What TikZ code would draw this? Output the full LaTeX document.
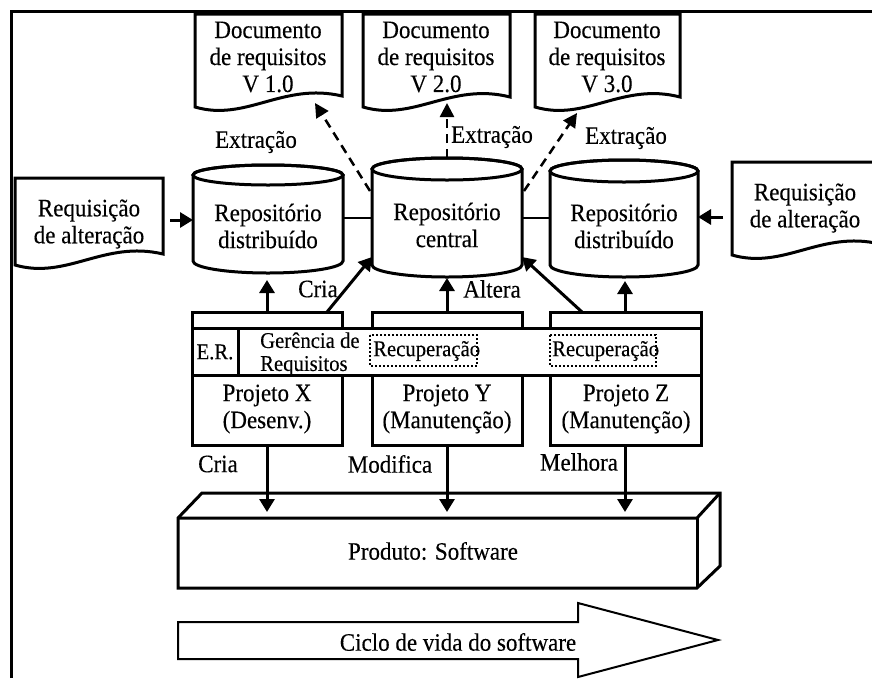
\documentclass[tikz,border=0pt]{standalone}
\usepackage{fontspec}
\setmainfont{Liberation Serif}[FakeStretch=0.92,FakeBold=0.25]
\usetikzlibrary{arrows.meta}
\newcommand\drawcyl[6]{%
 \pgfmathsetmacro\cxx{(#1+#2)/2}\pgfmathsetmacro\rxx{(#2-#1)/2}%
 \draw[shp,fill=white] (#1,#3) -- (#1,#5) .. controls (#1,#5+0.5523*#6) and (\cxx-0.5523*\rxx,#5+#6) .. (\cxx,#5+#6) .. controls (\cxx+0.5523*\rxx,#5+#6) and (#2,#5+0.5523*#6) .. (#2,#5) -- (#2,#3) .. controls (#2,#3-0.5523*#4) and (\cxx+0.5523*\rxx,#3-#4) .. (\cxx,#3-#4) .. controls (\cxx-0.5523*\rxx,#3-#4) and (#1,#3-0.5523*#4) .. (#1,#3) -- cycle;
 \draw[shp] (\cxx,#3) ellipse [x radius=\rxx, y radius=#4];
}
\begin{document}
\begin{tikzpicture}[x=1pt,y=-1pt,
  shp/.style={line width=3pt},
  arr/.style={line width=3pt,-{Triangle[length=13pt,width=15pt]}},
  dsh/.style={line width=2.5pt,dash pattern=on 9pt off 6pt,-{Triangle[length=14pt,width=14pt]}},
  thinln/.style={line width=1.5pt},
  txt/.style={font=\fontsize{25}{27}\selectfont,align=center,inner sep=0pt},
  sml/.style={font=\fontsize{22.5}{23}\selectfont,inner sep=0pt},
  dotbox/.style={line width=2pt,dash pattern=on 2pt off 2pt}]
\useasboundingbox (0,0) rectangle (872,678);
\clip (0,0) rectangle (872,678);
\fill[white] (0,0) rectangle (872,678);
% frame
\draw[shp] (11.5,678) -- (11.5,11.5) -- (872,11.5);
% documents
\draw[shp,fill=white] (195,14) -- (342,14) -- (342,96) .. controls (283,82) and (246,122) .. (195,107) -- cycle;
\draw[shp,fill=white] (363,14) -- (510,14) -- (510,97) .. controls (451,82) and (414,122) .. (363,107) -- cycle;
\draw[shp,fill=white] (535,14) -- (680,14) -- (680,97) .. controls (622,82) and (586,122) .. (535,107) -- cycle;
\node[txt] (docA) at (268,57) {Documento\\de requisitos\\V 1.0};
\node[txt] (docB) at (436,57) {Documento\\de requisitos\\V 2.0};
\node[txt] (docC) at (607,57) {Documento\\de requisitos\\V 3.0};
% change requests
\draw[shp,fill=white] (15,178) -- (163,178) -- (163,254) .. controls (104,240) and (67,280) .. (15,265) -- cycle;
\draw[shp,fill=white] (732,162) -- (880,162) -- (880,244) .. controls (821,230) and (784,270) .. (732,255) -- cycle;
\node[txt] (reqL) at (89,224) {Requisição\\de alteração};
\node[txt] (reqR) at (805,208) {Requisição\\de alteração};
% cylinders
\drawcyl{193}{343}{175}{10}{261}{12}
\drawcyl{372}{522}{169}{11}{265}{12}
\drawcyl{550}{698}{171}{11}{265}{12}
\node[txt] (cylL) at (268,226) {Repositório\\distribuído};
\node[txt] (cylC) at (447,225) {Repositório\\central};
\node[txt] (cylR) at (624,226) {Repositório\\distribuído};
% connector coordinates
\coordinate (cylL-w) at (193,220);
\coordinate (cylL-e) at (343,218);
\coordinate (cylC-w) at (372,218);
\coordinate (cylC-e) at (522,218);
\coordinate (cylR-w) at (550,218);
\coordinate (cylR-e) at (698,217);
\coordinate (reqL-e) at (170,220);
\coordinate (reqR-w) at (723,217);
\coordinate (cylC-nw) at (370,191);
\coordinate (cylC-n) at (447,158);
\coordinate (cylC-ne) at (524,191);
\coordinate (docA-s) at (315,103);
\coordinate (docB-s) at (447,103);
\coordinate (docC-s) at (577,113);
\coordinate (cylL-s) at (267,280);
\coordinate (cylC-sw) at (372,257);
\coordinate (cylC-s) at (447,278);
\coordinate (cylC-se) at (522,257);
\coordinate (cylR-s) at (625,281);
\coordinate (prjX-n) at (267,312);
\coordinate (prjX-ne) at (327,312);
\coordinate (prjY-n) at (447,312);
\coordinate (prjZ-nw) at (582,312);
\coordinate (prjZ-n) at (625,312);
\coordinate (prjX-s) at (267,445);
\coordinate (prjY-s) at (447,445);
\coordinate (prjZ-s) at (625,445);
\coordinate (prod-a) at (267,512);
\coordinate (prod-b) at (447,512);
\coordinate (prod-c) at (625,512);
% links between repositories
\draw[thinln] (cylL-e) -- (cylC-w);
\draw[thinln] (cylC-e) -- (cylR-w);
\draw[arr] (reqL-e) -- (cylL-w);
\draw[arr] (reqR-w) -- (cylR-e);
% extraction
\draw[dsh] (cylC-nw) -- (docA-s);
\draw[dsh] (cylC-n) -- (docB-s);
\draw[dsh] (cylC-ne) -- (docC-s);
\node[txt] (exA) at (256,142) {Extração};
\node[txt] (exB) at (492,137) {Extração};
\node[txt] (exC) at (626,138) {Extração};
% project boxes
\draw[shp,fill=white] (192,312) rectangle (342,445);
\draw[shp,fill=white] (372,312) rectangle (522,445);
\draw[shp,fill=white] (550,312) rectangle (701,445);
\draw[shp,fill=white] (192,328) rectangle (701,375);
\draw[shp] (238,328) -- (238,375);
\node[sml] (er) at (215,352) {E.R.};
\node[sml,align=left,anchor=west] (ger) at (260,354) {Gerência de\\Requisitos};
\node[sml,anchor=west] (recY) at (373,351) {Recuperação};
\node[sml,anchor=west] (recZ) at (552,351) {Recuperação};
\draw[dotbox] (370,335) rectangle (477,366);
\draw[dotbox] (550,335) rectangle (656,366);
\node[txt] (prjX) at (267,409) {Projeto X\\(Desenv.)};
\node[txt] (prjY) at (447,409) {Projeto Y\\(Manutenção)};
\node[txt] (prjZ) at (626,409) {Projeto Z\\(Manutenção)};
% arrows up
\draw[arr] (prjX-n) -- (cylL-s);
\draw[arr] (prjX-ne) -- (cylC-sw);
\draw[arr] (prjY-n) -- (cylC-s);
\draw[arr] (prjZ-nw) -- (cylC-se);
\draw[arr] (prjZ-n) -- (cylR-s);
\node[txt] (lCria) at (318,289) {Cria};
\node[txt] (lAltera) at (492,289) {Altera};
% product
\draw[shp,fill=white] (178,518) -- (202,493) -- (720,493) -- (720,566) -- (697,588) -- (178,588) -- cycle;
\draw[shp] (178,518) -- (697,518) -- (720,493);
\draw[shp] (697,518) -- (697,588);
\node[txt] (prod) at (433,551) {Produto: Software};
% arrows down
\draw[arr] (prjX-s) -- (prod-a);
\draw[arr] (prjY-s) -- (prod-b);
\draw[arr] (prjZ-s) -- (prod-c);
\node[txt] (lCria2) at (218,464) {Cria};
\node[txt] (lMod) at (390,464) {Modifica};
\node[txt] (lMel) at (579,462) {Melhora};
% life cycle arrow
\draw[line width=2pt,fill=white] (178,622) -- (578,622) -- (578,603) -- (718,640) -- (578,677) -- (578,659) -- (178,659) -- cycle;
\node[txt] (cycle) at (458,642) {Ciclo de vida do software};
\end{tikzpicture}
\end{document}
